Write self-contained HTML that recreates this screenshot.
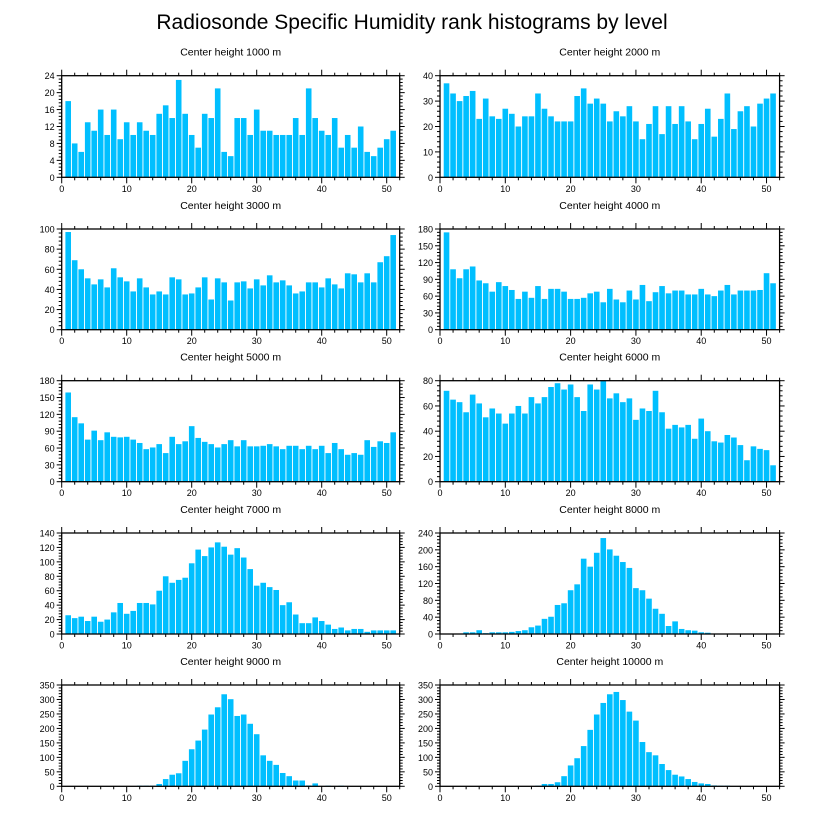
<!DOCTYPE html>
<html><head><meta charset="utf-8"><style>
html,body{margin:0;padding:0;background:#fff;}
svg text{font-family:"Liberation Sans",Arial,sans-serif;fill:#000;}
</style></head><body>
<svg id="chart" width="818" height="824" viewBox="0 0 818 824" xmlns="http://www.w3.org/2000/svg">
<text x="412" y="29" font-size="21" text-anchor="middle">Radiosonde Specific Humidity rank histograms by level</text>
</svg>
<script>
const titles = ["Center height 1000 m","Center height 2000 m","Center height 3000 m","Center height 4000 m","Center height 5000 m","Center height 6000 m","Center height 7000 m","Center height 8000 m","Center height 9000 m","Center height 10000 m"];
const h1000 = [18,8,6,13,11,16,10,16,9,13,10,13,11,10,15,17,14,23,15,10,7,15,14,21,6,5,14,14,10,16,11,11,10,10,10,14,10,21,14,11,10,14,7,10,7,12,6,5,7,9,11];
const h2000 = [37,33,30,32,34,23,31,24,23,27,25,20,24,24,33,27,24,22,22,22,32,35,29,31,29,22,26,24,28,22,15,21,28,17,28,21,28,22,15,21,27,16,23,33,19,26,28,20,29,31,33];
const h3000 = [97,69,60,51,45,50,42,61,52,48,38,51,42,35,38,35,52,50,35,36,42,52,30,51,47,29,47,48,41,50,44,54,47,49,44,36,38,47,47,42,51,45,41,56,55,47,56,47,67,73,94];
const h4000 = [174,108,92,108,113,88,83,68,85,78,71,55,68,57,78,55,73,73,68,55,55,57,65,68,49,73,54,49,70,54,80,51,67,78,65,70,70,63,63,73,63,60,70,80,63,70,70,70,71,101,83];
const h5000 = [159,115,104,75,91,74,88,80,79,80,75,69,58,61,67,51,80,67,72,99,78,71,67,61,67,74,63,74,63,63,64,67,63,58,64,64,58,64,58,64,51,69,58,48,51,48,74,62,72,69,88];
const h6000 = [72,65,63,55,69,62,51,58,54,46,54,60,54,67,62,67,75,78,73,77,67,56,77,73,80,66,70,63,66,49,58,56,72,55,42,45,43,45,34,50,40,32,31,37,35,29,17,28,26,25,13];
const h7000 = [26,22,24,18,24,17,20,30,43,28,32,43,43,41,60,80,71,75,78,98,117,108,120,127,121,110,119,106,90,67,71,65,61,40,44,27,15,15,23,18,13,7,9,5,7,7,3,5,5,5,5];
const h8000 = [1,1,1,4,4,9,2,4,4,4,5,7,9,16,20,36,41,69,73,104,118,179,160,193,228,201,186,171,157,109,104,84,60,48,19,30,12,9,8,4,3,1,1,1,1,1,0,0,0,0,0];
const h9000 = [0,0,0,0,0,0,0,0,0,0,0,2,2,2,8,25,40,45,88,128,158,196,248,273,318,301,243,248,216,180,107,88,74,46,35,20,20,3,10,1,2,1,2,1,1,0,0,1,0,0,0];
const h10000 = [0,0,0,0,0,0,0,0,0,0,0,0,0,1,2,8,8,14,35,72,97,139,195,248,288,318,326,298,258,227,153,118,107,77,56,40,34,25,15,10,8,3,2,2,0,1,0,0,0,0,0];
const yMax = [24,40,100,180,180,80,140,240,350,350];
const yStep = [4,10,20,30,30,20,20,40,50,50];
const xTicks = [0,10,20,30,40,50];
const series = [h1000,h2000,h3000,h4000,h5000,h6000,h7000,h8000,h9000,h10000];

const svg = document.getElementById('chart');
const NS = 'http://www.w3.org/2000/svg';
function mk(tag, attrs, parent){const e=document.createElementNS(NS,tag);for(const k in attrs)e.setAttribute(k,attrs[k]);(parent||svg).appendChild(e);return e;}

const colX = [[61.7,399.7],[440,779.6]];
const rowY = [[75.7,177.3],[229,329.7],[380.7,481.7],[533,634],[685,786.3]];

series.forEach((vals,i)=>{
  const [x0,x1] = colX[i%2];
  const [yT,yB] = rowY[Math.floor(i/2)];
  const xs = v => x0 + v/52*(x1-x0);
  const ys = v => yB - v/yMax[i]*(yB-yT);
  const g = mk('g',{});
  
  
  const t = mk('text',{x:(x0+x1)/2,y:yT-20,'font-size':10.5,'text-anchor':'middle'},g);
  
  
  t.textContent = titles[i];
  vals.forEach((v,k)=>{
    const b = mk('rect',{x:xs(k+1-0.43),y:ys(v),width:xs(0.86)-xs(0),height:yB-ys(v),fill:'#00bfff'},g);
    
    
  });
  const fr = mk('rect',{x:x0,y:yT,width:x1-x0,height:yB-yT,fill:'none',stroke:'#000','stroke-width':1.3},g);
  
  
  for(let v=0; v<=52; v+=2){
    const major = v%10===0, L = major?6:3;
    mk('line',{x1:xs(v),x2:xs(v),y1:yB,y2:yB+L,stroke:'#000','stroke-width':1},g);
    mk('line',{x1:xs(v),x2:xs(v),y1:yT,y2:yT-L,stroke:'#000','stroke-width':1},g);
  }
  xTicks.forEach(v=>{
    const tl = mk('text',{x:xs(v),y:yB+14.5,'font-size':9,'text-anchor':'middle'},g);
    
    
    tl.textContent = v;
  });
  const minor = yStep[i]/5;
  for(let k=0; k*minor<=yMax[i]+1e-9; k++){
    const v = k*minor, major = k%5===0, L = major?5:3;
    mk('line',{x1:x0,x2:x0-L,y1:ys(v),y2:ys(v),stroke:'#000','stroke-width':1},g);
    mk('line',{x1:x1,x2:x1+L,y1:ys(v),y2:ys(v),stroke:'#000','stroke-width':1},g);
    if(major){
      const yl = mk('text',{x:x0-7,y:ys(v)+3.5,'font-size':9,'text-anchor':'end'},g);
      
      
      yl.textContent = Math.round(v);
    }
  }
});
</script>
</body></html>
